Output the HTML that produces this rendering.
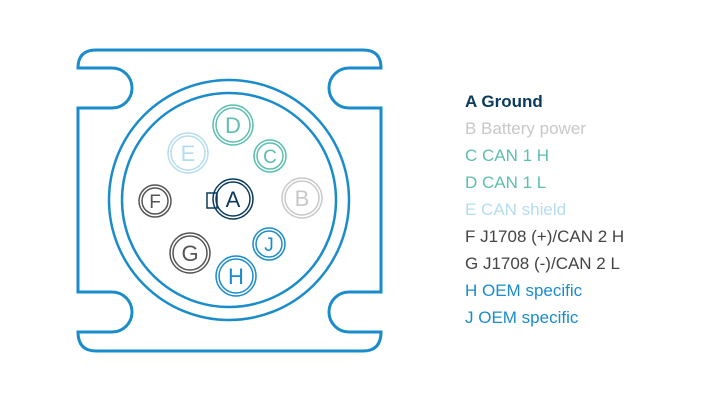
<!DOCTYPE html>
<html><head><style>html,body{margin:0;padding:0;background:#fff}svg{display:block}</style></head>
<body>
<svg width="722" height="403" viewBox="0 0 722 403" xmlns="http://www.w3.org/2000/svg" font-family="Liberation Sans, sans-serif">
<path d="M96,50 H363 Q381,50 381,68 H349 A20,20 0 0 0 349,108 H381 V292 H349 A20,20 0 0 0 349,332 H381 Q381,351 363,351 H96 Q78,351 78,332 H112 A20,20 0 0 0 112,292 H78 V108 H112 A20,20 0 0 0 112,68 H78 Q78,50 96,50 Z" fill="none" stroke="#1a8ccc" stroke-width="3"/>
<circle cx="229" cy="200" r="120" fill="none" stroke="#1a8ccc" stroke-width="2.5"/>
<circle cx="229" cy="200" r="107" fill="none" stroke="#1a8ccc" stroke-width="2.5"/>
<g fill="none" stroke-width="1.5">
<g stroke="#5bbfb0"><circle cx="233" cy="125" r="20"/><circle cx="233" cy="125" r="17"/><circle cx="270" cy="156" r="16"/><circle cx="270" cy="156" r="13"/></g>
<g stroke="#b6dcf0"><circle cx="188" cy="153" r="20"/><circle cx="188" cy="153" r="17"/></g>
<g stroke="#0b3a5e"><circle cx="233" cy="199" r="20"/><circle cx="233" cy="199" r="17"/><rect x="207" y="193" width="10" height="15"/></g>
<g stroke="#c8c8c8"><circle cx="302" cy="198" r="20"/><circle cx="302" cy="198" r="17"/></g>
<g stroke="#555"><circle cx="155" cy="201" r="16"/><circle cx="155" cy="201" r="13"/><circle cx="190" cy="253" r="20"/><circle cx="190" cy="253" r="17"/></g>
<g stroke="#1a8ccc"><circle cx="269" cy="244" r="16"/><circle cx="269" cy="244" r="13"/><circle cx="236" cy="276" r="20"/><circle cx="236" cy="276" r="17"/></g>
</g>
<g text-anchor="middle" font-size="22">
<text x="233" y="133" fill="#5bbfb0">D</text>
<text x="270" y="163" fill="#5bbfb0" font-size="19">C</text>
<text x="188" y="161" fill="#b6dcf0">E</text>
<text x="233" y="207" fill="#0b3a5e">A</text>
<text x="302" y="206" fill="#c8c8c8">B</text>
<text x="155" y="208" fill="#555" font-size="19">F</text>
<text x="190" y="261" fill="#555">G</text>
<text x="269" y="251" fill="#1a8ccc" font-size="19">J</text>
<text x="236" y="284" fill="#1a8ccc">H</text>
</g>
<g font-size="17">
<text x="465" y="107" fill="#0b3a5e" font-weight="bold">A Ground</text>
<text x="465" y="134" fill="#c8c8c8">B Battery power</text>
<text x="465" y="161" fill="#5bbfb0">C CAN 1 H</text>
<text x="465" y="188" fill="#5bbfb0">D CAN 1 L</text>
<text x="465" y="215" fill="#b6dcf0">E CAN shield</text>
<text x="465" y="242" fill="#444">F J1708 (+)/CAN 2 H</text>
<text x="465" y="269" fill="#444">G J1708 (-)/CAN 2 L</text>
<text x="465" y="296" fill="#1a8ccc">H OEM specific</text>
<text x="465" y="323" fill="#1a8ccc">J OEM specific</text>
</g>
</svg>
</body></html>
